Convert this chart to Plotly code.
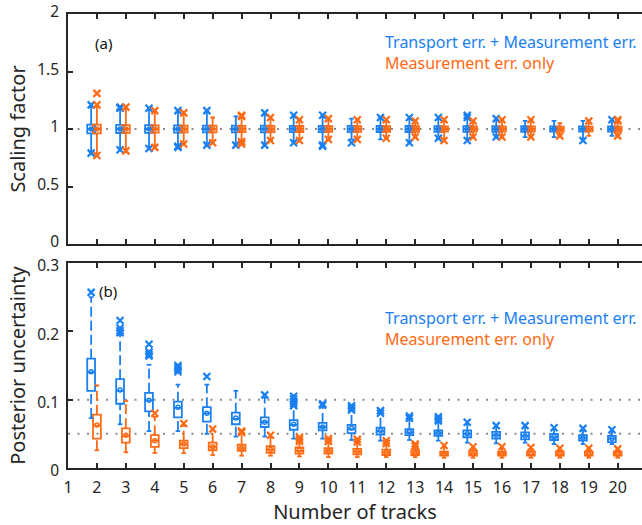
import plotly.graph_objects as go

tracks = list(range(2, 21))
x_ticks = list(range(1, 21))

# ---------- (a) Scaling factor ----------
sf_blue_q1 = [0.962, 0.965, 0.966, 0.968, 0.970, 0.970, 0.971, 0.972, 0.972, 0.973, 0.974, 0.974, 0.975, 0.975, 0.976, 0.976, 0.977, 0.977, 0.978]
sf_blue_med = [1.0] * 19
sf_blue_q3 = [1.038, 1.035, 1.034, 1.032, 1.030, 1.030, 1.029, 1.028, 1.028, 1.027, 1.026, 1.026, 1.025, 1.025, 1.024, 1.024, 1.023, 1.023, 1.022]
sf_blue_lo = [0.80, 0.83, 0.84, 0.85, 0.86, 0.87, 0.87, 0.89, 0.86, 0.91, 0.91, 0.89, 0.92, 0.91, 0.93, 0.93, 0.93, 0.91, 0.94]
sf_blue_hi = [1.19, 1.17, 1.17, 1.15, 1.15, 1.11, 1.13, 1.11, 1.11, 1.09, 1.10, 1.09, 1.09, 1.11, 1.08, 1.07, 1.07, 1.07, 1.07]
sf_blue_mean = [1.0, 1.0, 1.0, 1.0, 1.0, 1.0, 1.0, 1.0, 1.0, 1.0, 1.0, 1.0, 1.0, 1.0, 1.0, 1.0, 1.0, 1.0, 1.0]
sf_blue_out = [[1.21, 0.79], [1.19, 1.18, 0.82], [1.18, 0.83], [1.16, 0.84, 0.85], [1.16, 0.86], [0.86],
               [1.14, 0.86], [1.12, 0.88], [1.12, 0.85, 0.86], [0.88], [1.10], [1.10, 0.88], [1.10, 0.92],
               [1.12, 1.10, 0.90], [1.09, 0.93], [], [], [0.90], [1.08]]

sf_or_q1 = [0.962, 0.966, 0.968, 0.970, 0.971, 0.972, 0.973, 0.974, 0.975, 0.975, 0.976, 0.976, 0.977, 0.977, 0.978, 0.978, 0.979, 0.979, 0.980]
sf_or_med = [1.0] * 19
sf_or_q3 = [1.038, 1.034, 1.032, 1.030, 1.029, 1.028, 1.027, 1.026, 1.025, 1.025, 1.024, 1.024, 1.023, 1.023, 1.022, 1.022, 1.021, 1.021, 1.020]
sf_or_lo = [0.78, 0.80, 0.85, 0.88, 0.89, 0.90, 0.90, 0.91, 0.91, 0.92, 0.92, 0.93, 0.91, 0.93, 0.93, 0.93, 0.94, 0.94, 0.94]
sf_or_hi = [1.20, 1.18, 1.15, 1.13, 1.10, 1.11, 1.09, 1.08, 1.08, 1.08, 1.07, 1.07, 1.07, 1.07, 1.08, 1.08, 1.05, 1.07, 1.08]
sf_or_mean = [1.0, 1.0, 1.0, 1.0, 1.0, 1.0, 1.0, 1.0, 1.0, 1.0, 1.0, 1.0, 1.0, 1.0, 1.0, 1.0, 1.0, 1.0, 1.0]
sf_or_out = [[1.31, 1.21, 0.77], [1.19, 0.81], [1.16, 0.84], [1.14, 0.87], [0.88], [1.12, 1.11, 0.89, 0.87],
             [1.10, 0.90], [1.08, 0.90], [1.09, 0.91], [1.08, 0.91], [1.08, 0.92], [1.07, 0.93], [1.08, 0.90],
             [1.07, 0.93], [1.08, 0.93], [1.08, 0.93], [0.94], [1.07], [1.08, 1.07, 0.94]]

# ---------- (b) Posterior uncertainty ----------
pu_blue_q1 = [0.113, 0.094, 0.083, 0.074, 0.068, 0.064, 0.060, 0.056, 0.055, 0.051, 0.049, 0.048, 0.047, 0.045, 0.043, 0.042, 0.041, 0.040, 0.038]
pu_blue_med = [0.140, 0.113, 0.099, 0.088, 0.080, 0.072, 0.067, 0.063, 0.060, 0.057, 0.054, 0.052, 0.051, 0.050, 0.048, 0.047, 0.045, 0.044, 0.043]
pu_blue_q3 = [0.160, 0.130, 0.110, 0.097, 0.089, 0.081, 0.074, 0.070, 0.066, 0.063, 0.059, 0.057, 0.055, 0.055, 0.053, 0.052, 0.050, 0.048, 0.047]
pu_blue_lo = [0.073, 0.064, 0.054, 0.054, 0.050, 0.046, 0.046, 0.043, 0.043, 0.041, 0.040, 0.041, 0.040, 0.037, 0.036, 0.037, 0.035, 0.035, 0.035]
pu_blue_hi = [0.250, 0.195, 0.151, 0.122, 0.122, 0.113, 0.103, 0.100, 0.090, 0.084, 0.080, 0.074, 0.072, 0.064, 0.060, 0.060, 0.057, 0.055, 0.054]
pu_blue_mean = [0.141, 0.114, 0.099, 0.089, 0.080, 0.073, 0.067, 0.064, 0.060, 0.058, 0.055, 0.053, 0.051, 0.050, 0.048, 0.047, 0.046, 0.044, 0.043]
pu_blue_out = [[0.257], [0.216, 0.205, 0.201, 0.198], [0.181, 0.170, 0.166, 0.164], [0.150, 0.147, 0.144, 0.141],
               [0.134], [], [0.107], [0.105, 0.101, 0.097, 0.094, 0.091], [0.094, 0.092], [0.091, 0.088, 0.085],
               [0.084, 0.080], [0.076, 0.073], [0.075, 0.072, 0.069], [0.067], [0.062], [0.062], [0.059],
               [0.058], [0.056]]

pu_or_q1 = [0.043, 0.037, 0.031, 0.029, 0.026, 0.025, 0.022, 0.021, 0.021, 0.020, 0.019, 0.019, 0.018, 0.018, 0.018, 0.018, 0.018, 0.018, 0.018]
pu_or_med = [0.062, 0.047, 0.040, 0.035, 0.031, 0.029, 0.027, 0.025, 0.025, 0.024, 0.023, 0.022, 0.021, 0.021, 0.021, 0.020, 0.020, 0.020, 0.020]
pu_or_q3 = [0.078, 0.058, 0.048, 0.040, 0.037, 0.034, 0.032, 0.030, 0.029, 0.028, 0.027, 0.026, 0.024, 0.025, 0.024, 0.024, 0.024, 0.024, 0.024]
pu_or_lo = [0.026, 0.023, 0.022, 0.022, 0.019, 0.018, 0.018, 0.017, 0.016, 0.016, 0.016, 0.016, 0.015, 0.015, 0.015, 0.015, 0.015, 0.015, 0.015]
pu_or_hi = [0.121, 0.098, 0.075, 0.062, 0.055, 0.050, 0.045, 0.040, 0.040, 0.038, 0.036, 0.032, 0.031, 0.029, 0.029, 0.028, 0.027, 0.028, 0.027]
pu_or_mean = [0.063, 0.048, 0.040, 0.035, 0.031, 0.029, 0.027, 0.026, 0.025, 0.024, 0.023, 0.022, 0.021, 0.021, 0.021, 0.021, 0.020, 0.020, 0.020]
pu_or_out = [[], [], [0.080], [0.065], [0.057], [0.054, 0.052], [0.048], [0.045, 0.042, 0.039], [0.043, 0.039],
             [0.042, 0.038], [0.040, 0.036], [0.035, 0.032], [0.033], [0.031], [0.031], [0.030], [0.029],
             [0.029], [0.028]]

label_blue = "Transport err. + Measurement err."
label_orange = "Measurement err. only"

BLUE = "#1A80F2"
ORANGE = "#FF6A14"
AXC = "#262626"
FONT = "Noto Sans"
BOX_W = 0.27
CAP_HALF = 0.08

fig = go.Figure()


def add_series(q1, med, q3, lo, hi, mean, outl, offset, color, xa, ya, dashed):
    pos = [t + offset for t in tracks]
    if dashed:
        # box only; whiskers drawn separately as dashed lines
        fig.add_trace(go.Box(
            x=pos, q1=q1, median=med, q3=q3, lowerfence=q1, upperfence=q3,
            width=BOX_W, whiskerwidth=0, boxpoints=False,
            line=dict(color=color, width=1.8), fillcolor="rgba(0,0,0,0)",
            xaxis=xa, yaxis=ya, showlegend=False, hoverinfo="skip"))
        wx, wy, cx, cy = [], [], [], []
        for p, a, b, c, d in zip(pos, lo, q1, q3, hi):
            wx += [p, p, None, p, p, None]
            wy += [c, d, None, a, b, None]
            cx += [p - CAP_HALF, p + CAP_HALF, None, p - CAP_HALF, p + CAP_HALF, None]
            cy += [d, d, None, a, a, None]
        fig.add_trace(go.Scatter(x=wx, y=wy, mode="lines", showlegend=False, hoverinfo="skip",
                                 line=dict(color=color, width=1.8, dash="10px,4px"), xaxis=xa, yaxis=ya))
        fig.add_trace(go.Scatter(x=cx, y=cy, mode="lines", showlegend=False, hoverinfo="skip",
                                 line=dict(color=color, width=1.8), xaxis=xa, yaxis=ya))
    else:
        fig.add_trace(go.Box(
            x=pos, q1=q1, median=med, q3=q3, lowerfence=lo, upperfence=hi,
            width=BOX_W, whiskerwidth=0.6, boxpoints=False,
            line=dict(color=color, width=1.8), fillcolor="rgba(0,0,0,0)",
            xaxis=xa, yaxis=ya, showlegend=False, hoverinfo="skip"))
    fig.add_trace(go.Scatter(
        x=pos, y=mean, mode="markers", showlegend=False, hoverinfo="skip",
        marker=dict(symbol="circle-open", size=4, color=color, line=dict(width=1.5, color=color)),
        xaxis=xa, yaxis=ya))
    ox, oy = [], []
    for p, vals in zip(pos, outl):
        for v in vals:
            ox.append(p)
            oy.append(v)
    fig.add_trace(go.Scatter(
        x=ox, y=oy, mode="markers", showlegend=False, hoverinfo="skip",
        marker=dict(symbol="x-thin", size=7, color=color, line=dict(width=2.2, color=color)),
        xaxis=xa, yaxis=ya))


add_series(sf_blue_q1, sf_blue_med, sf_blue_q3, sf_blue_lo, sf_blue_hi, sf_blue_mean, sf_blue_out, -0.2, BLUE, "x", "y", False)
add_series(sf_or_q1, sf_or_med, sf_or_q3, sf_or_lo, sf_or_hi, sf_or_mean, sf_or_out, 0.0, ORANGE, "x", "y", False)
add_series(pu_blue_q1, pu_blue_med, pu_blue_q3, pu_blue_lo, pu_blue_hi, pu_blue_mean, pu_blue_out, -0.2, BLUE, "x2", "y2", True)
add_series(pu_or_q1, pu_or_med, pu_or_q3, pu_or_lo, pu_or_hi, pu_or_mean, pu_or_out, 0.0, ORANGE, "x2", "y2", True)

xcommon = dict(range=[1, 20.84], tickvals=x_ticks, ticks="inside", ticklen=5, tickwidth=1.5,
               tickcolor=AXC, showline=True, linecolor=AXC, linewidth=1.5, mirror="ticks",
               showgrid=False, zeroline=False, tickfont=dict(size=16, color=AXC, family=FONT))
ycommon = dict(ticks="inside", ticklen=5, tickwidth=1.5, tickcolor=AXC, showline=True,
               linecolor=AXC, linewidth=1.5, showgrid=False, zeroline=False,
               tickfont=dict(size=15.5, color=AXC, family=FONT), ticklabelstandoff=4)

fig.update_layout(
    width=642, height=525,
    margin=dict(l=68, r=0, t=14, b=57),
    paper_bgcolor="white", plot_bgcolor="white",
    boxmode="overlay",
    font=dict(family=FONT, color=AXC),
    xaxis=dict(**xcommon, domain=[0, 1], anchor="y", showticklabels=False),
    yaxis=dict(**ycommon, domain=[0.4934, 1], anchor="x", range=[0, 2], ticklabelshift=-2,
               tickvals=[0, 0.5, 1, 1.5, 2], ticktext=["0", "0.5", "1", "1.5", "2"],
               title=dict(text="Scaling factor", font=dict(size=20, color=AXC, family=FONT), standoff=6)),
    xaxis2=dict(**xcommon, domain=[0, 1], anchor="y2", ticklabelstandoff=4,
                title=dict(text="Number of tracks", font=dict(size=20, color=AXC, family=FONT), standoff=6)),
    yaxis2=dict(**ycommon, domain=[0, 0.4515], anchor="x2", range=[0, 0.3], ticklabelshift=3,
                tickvals=[0, 0.1, 0.2, 0.3], ticktext=["0", "0.1", "0.2", "0.3"],
                title=dict(text="Posterior uncertainty", font=dict(size=20, color=AXC, family=FONT), standoff=6)),
)

dotted = dict(color="#8A8A8A", width=2, dash="2px,7.5px")
for yr, val in [("y", 1.0), ("y2", 0.1), ("y2", 0.05)]:
    xr = "x domain" if yr == "y" else "x2 domain"
    fig.add_shape(type="line", xref=xr, yref=yr, x0=0, x1=1, y0=val, y1=val, line=dotted, layer="below")

ann = [
    dict(text="(a)", xref="x", yref="y", x=1.86, y=1.75, color="#111111", size=15),
    dict(text="(b)", xref="x2", yref="y2", x=2.0, y=0.2595, color="#111111", size=15),
    dict(text=label_blue, xref="x", yref="y", x=11.88, y=1.76, color=BLUE, size=16),
    dict(text=label_orange, xref="x", yref="y", x=11.9, y=1.57, color=ORANGE, size=16),
    dict(text=label_blue, xref="x2", yref="y2", x=11.88, y=0.219, color=BLUE, size=16),
    dict(text=label_orange, xref="x2", yref="y2", x=11.9, y=0.189, color=ORANGE, size=16),
]
for a in ann:
    fig.add_annotation(text=a["text"], xref=a["xref"], yref=a["yref"], x=a["x"], y=a["y"],
                       xanchor="left", yanchor="middle", showarrow=False,
                       font=dict(size=a["size"], color=a["color"], family=FONT))

fig.write_html("out.html")
